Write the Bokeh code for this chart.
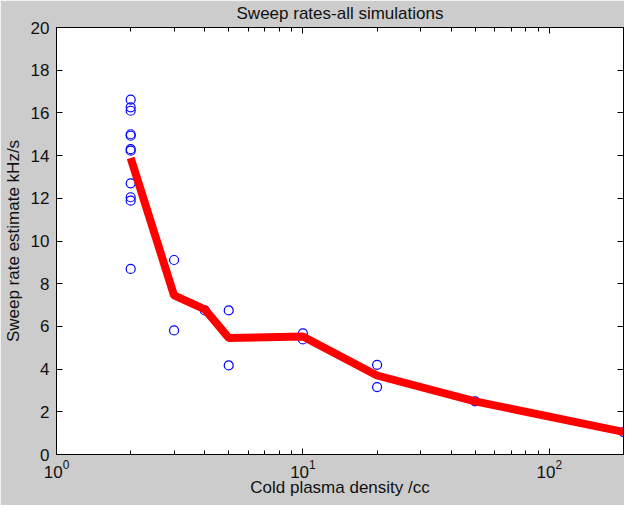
from bokeh.plotting import figure
from bokeh.models import (LogAxis, LinearAxis, FixedTicker, Range1d, ColumnDataSource,
                          LogTickFormatter)
from bokeh.embed import file_html
from bokeh.resources import INLINE

# ---- data ----
density = [2, 2, 2, 2, 2, 2, 2, 2, 2, 2, 2,
           3, 3, 4, 5, 5, 10, 10, 20, 20, 50, 200]
sweep_rate = [16.62, 16.26, 16.10, 15.00, 14.93, 14.30, 14.23, 12.70, 12.05, 11.89, 8.69,
              9.11, 5.81, 6.75, 6.75, 4.17, 5.39, 5.67, 4.20, 3.16, 2.49, 1.05]

mean_density = [2, 3, 4, 5, 10, 20, 50, 200]
mean_rate = [13.89, 7.45, 6.80, 5.46, 5.53, 3.70, 2.49, 1.06]

x_major = [1, 10, 100]
x_minor = [2, 3, 4, 5, 6, 7, 8, 9, 20, 30, 40, 50, 60, 70, 80, 90, 200]
y_ticks = [0, 2, 4, 6, 8, 10, 12, 14, 16, 18, 20]
x_lim = (1, 200)
y_lim = (0, 20)

TITLE = "Sweep rates-all simulations"
FONT = "Liberation Sans"
GRAY = "#cccccc"
FS = "17px"

p = figure(width=624, height=505, output_backend="svg", toolbar_location=None,
           x_axis_type="log", x_range=Range1d(*x_lim), y_range=Range1d(*y_lim),
           min_border_left=54, min_border_right=1, min_border_top=27, min_border_bottom=51)

p.background_fill_color = "white"
p.border_fill_color = GRAY
p.outline_line_color = None
p.grid.visible = False

xt = FixedTicker(ticks=x_major, minor_ticks=x_minor)
yt = FixedTicker(ticks=y_ticks)

def style(ax, labels=True):
    ax.axis_line_color = "black"
    ax.major_tick_line_color = "black"
    ax.minor_tick_line_color = "black"
    ax.major_tick_in = 6
    ax.major_tick_out = 0
    ax.minor_tick_in = 4
    ax.minor_tick_out = 0
    ax.major_label_text_font = FONT
    ax.major_label_text_color = "#111111"
    ax.major_label_text_font_size = FS
    ax.axis_label_text_font = FONT
    ax.axis_label_text_font_size = FS
    ax.axis_label_text_font_style = "normal"
    ax.axis_label_text_color = "#111111"
    if not labels:
        ax.major_label_text_font_size = "1px"
        ax.major_label_text_alpha = 0.0
        ax.major_label_standoff = 0

xa = p.xaxis[0]
xa.ticker = xt
xa.formatter = LogTickFormatter(min_exponent=0)
xa.axis_label = "Cold plasma density /cc"
style(xa)
xa.major_label_standoff = 5
xa.axis_label_standoff = -3

ya = p.yaxis[0]
ya.ticker = yt
ya.axis_label = "Sweep rate estimate kHz/s"
style(ya)
ya.minor_tick_in = 0
ya.major_label_standoff = 7
ya.axis_label_standoff = 5

# top box edge; its label carries the chart title, centred over the plot box
top = LogAxis(ticker=xt, axis_label=TITLE)
style(top, labels=False)
top.axis_label_standoff = 5
top.axis_label_text_line_height = 1.0
p.add_layout(top, "above")

right = LinearAxis(ticker=yt)
style(right, labels=False)
right.minor_tick_in = 0
p.add_layout(right, "right")

src = ColumnDataSource(dict(x=density, y=sweep_rate))
p.scatter("x", "y", source=src, marker="circle", size=9, fill_color=None,
          line_color="#0000ff", line_width=1.2)

msrc = ColumnDataSource(dict(x=mean_density, y=mean_rate))
p.line("x", "y", source=msrc, line_color="#ff0000", line_width=8)

open("out.html", "w").write(file_html(p, INLINE))
